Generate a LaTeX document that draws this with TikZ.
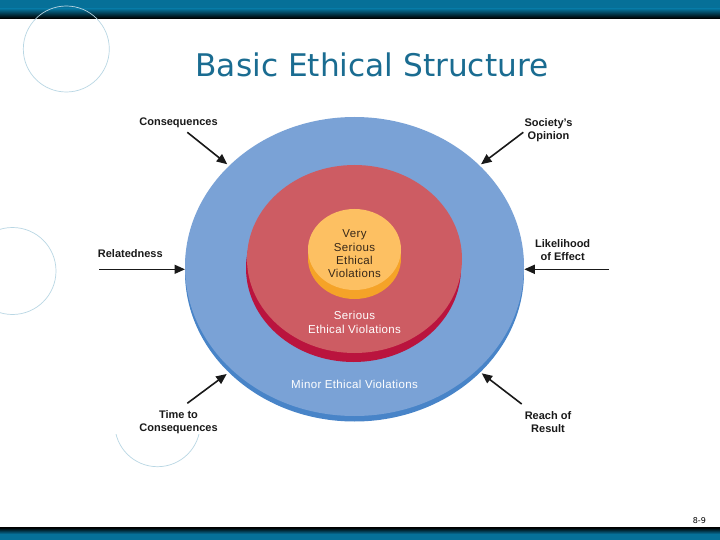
\documentclass[tikz,border=0pt]{standalone}
\usepackage{fontspec}
\setmainfont{Liberation Sans}
\newfontfamily\titlefont{DejaVu Sans}
\newfontfamily\discfont[LetterSpace=3]{Liberation Sans}
\usetikzlibrary{arrows.meta,shapes.geometric}
\definecolor{barteal}{RGB}{6,112,152}
\definecolor{titleblue}{RGB}{26,108,145}
\definecolor{decoline}{RGB}{185,215,228}
\definecolor{blueface}{RGB}{122,162,214}
\definecolor{blueedge}{RGB}{72,132,200}
\definecolor{redface}{RGB}{205,92,99}
\definecolor{rededge}{RGB}{186,20,62}
\definecolor{orangeface}{RGB}{253,192,98}
\definecolor{orangeedge}{RGB}{245,163,40}
\definecolor{innertext}{RGB}{55,40,25}
\begin{document}
\begin{tikzpicture}[x=1pt,y=-1pt,
  deco/.style={draw=decoline,line width=0.7pt},
  disc/.style={ellipse,inner sep=0pt,draw=none},
  lbl/.style={font=\fontsize{11}{13}\selectfont\bfseries,align=center,inner sep=0pt,text=black!90},
  intext/.style={font=\discfont\fontsize{11.5}{13.3}\selectfont,align=center,inner sep=0pt},
  ptr/.style={line width=1.6pt,draw=black!90,-{Triangle[length=10.5pt,width=9pt]}}]
\useasboundingbox (0,0) rectangle (720,540);
\fill[white] (0,0) rectangle (720,540);
% bars
\fill[barteal] (0,0) rectangle (720,9);
\shade[top color=barteal,bottom color=black] (0,9) rectangle (720,18.3);
\shade[top color=black,bottom color=barteal] (0,527.7) rectangle (720,534);
\fill[barteal] (0,534) rectangle (720,540);
% decorative circles
\draw[deco] (66.3,49) circle[radius=43];
\draw[deco] (12.5,271) circle[radius=43.5];
\draw[deco] (157.5,424) circle[radius=42.7];
% picture area
\fill[white] (88,96) rectangle (625,434);
% title
\node[anchor=base,text=titleblue,font=\titlefont\fontsize{31.2}{36}\selectfont,inner sep=0pt] (title) at (372,76.7) {Basic Ethical Structure};
% discs
\node[disc,fill=blueedge,minimum width=339pt,minimum height=299pt] (blueE) at (354.5,272) {};
\node[disc,fill=blueface,minimum width=339pt,minimum height=299pt] (blue) at (354.5,266.5) {};
\node[disc,fill=rededge,minimum width=215pt,minimum height=188pt] (redE) at (353.5,268) {};
\node[disc,fill=redface,minimum width=215pt,minimum height=188pt] (red) at (354.5,259) {};
\node[disc,fill=orangeedge,minimum width=93pt,minimum height=81pt] (orangeE) at (354.5,258.5) {};
\node[disc,fill=orangeface,minimum width=93pt,minimum height=81pt] (orange) at (354.5,249.5) {};
% disc texts
\node[intext,text=innertext] (vsev) at (354.5,254) {Very\\Serious\\Ethical\\Violations};
\node[intext,text=white,font=\discfont\fontsize{11.5}{14}\selectfont] (sev) at (354.5,322.5) {Serious\\Ethical Violations};
\node[intext,text=white] (mev) at (354.5,384) {Minor Ethical Violations};
% outer labels
\node[lbl] (cons) at (178.5,123) {Consequences};
\node[lbl] (rel) at (130.3,253.3) {Relatedness};
\node[lbl] (soc) at (548.5,130) {Society's\\Opinion};
\node[lbl] (lik) at (562.7,249.8) {Likelihood\\of Effect};
\node[lbl] (tim) at (178.5,422) {Time to\\Consequences};
\node[lbl] (rea) at (548,422) {Reach of\\Result};
% arrow ends
\coordinate (consT) at (187.3,132.3); \coordinate (consH) at (227.3,164.3);
\coordinate (relT) at (99.3,269.3);   \coordinate (relH) at (185,269.3);
\coordinate (socT) at (523.3,132.3);  \coordinate (socH) at (481,164.3);
\coordinate (likT) at (609,269.3);    \coordinate (likH) at (524.3,269.3);
\coordinate (timT) at (187.3,403.3);  \coordinate (timH) at (226.7,374);
\coordinate (reaT) at (521.7,404);    \coordinate (reaH) at (481.7,373.3);
\draw[ptr] (consT) -- (consH);
\draw[ptr] (relT) -- (relH);
\draw[ptr] (socT) -- (socH);
\draw[ptr] (likT) -- (likH);
\draw[ptr] (timT) -- (timH);
\draw[ptr] (reaT) -- (reaH);
% page number
\node[font=\titlefont\fontsize{8}{9}\selectfont,inner sep=0pt] (pg) at (699.3,520.7) {8-9};
\end{tikzpicture}
\end{document}
